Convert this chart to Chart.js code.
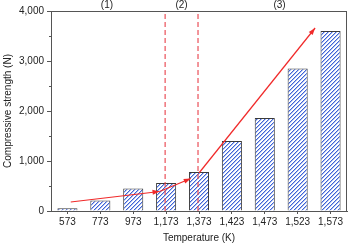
<!DOCTYPE html>
<html>
<head>
<meta charset="utf-8">
<script src="https://cdn.jsdelivr.net/npm/chart.js@4/dist/chart.umd.min.js"></script>
<style>
  html, body { margin: 0; padding: 0; background: #fff; }
  #wrap { width: 348px; height: 245px; }
</style>
</head>
<body>
<div id="wrap"><canvas id="chart"></canvas></div>
<script>
const temps = ["573", "773", "973", "1,173", "1,373", "1,423", "1,473", "1,523", "1,573"];
const strength = [55, 210, 450, 560, 780, 1400, 1860, 2850, 3600];
const yTicks = [0, 1000, 2000, 3000, 4000];

// trend arrows, x = category index, y = strength
const arrowLow = [{ x: 0.1, y: 180 }, { x: 2.8, y: 390 }];
const arrowMid = [{ x: 2.8, y: 390 }, { x: 3.75, y: 650 }];
const arrowHigh = [{ x: 4.0, y: 760 }, { x: 7.53, y: 3660 }];
const stageLines = [2.97, 3.97];
const stageLabels = ["(1)", "(2)", "(3)"];
const stageLabelPos = [1.2, 3.47, 6.45];

const axisColor = "#555";
const red = "#f02a2a";
const font = "Liberation Sans, Arial, sans-serif";

// crisp "/" hatch, drawn pixel by pixel
function hatch() {
  const c = document.createElement("canvas");
  c.width = 4; c.height = 4;
  const g = c.getContext("2d");
  g.fillStyle = "#fff";
  g.fillRect(0, 0, 4, 4);
  for (let i = 0; i < 4; i++) {
    g.fillStyle = "#3f63d6";
    g.fillRect(i, 3 - i, 1, 1);
    g.fillStyle = "#aebff0";
    g.fillRect(i, (4 - i) % 4, 1, 1);
  }
  return g.createPattern(c, "repeat");
}

const ctx = document.getElementById("chart").getContext("2d");

const extras = {
  id: "extras",
  afterDatasetsDraw(chart) {
    const { ctx, chartArea: a, scales } = chart;
    const x = scales.x, y = scales.y;
    ctx.save();
    // frame
    ctx.strokeStyle = axisColor;
    ctx.lineWidth = 1;
    ctx.strokeRect(a.left + 0.5, a.top + 0.5, a.right - a.left - 1, a.bottom - a.top);
    // minor ticks
    for (let v = 500; v < 4000; v += 1000) {
      const py = Math.round(y.getPixelForValue(v)) + 0.5;
      ctx.beginPath();
      ctx.moveTo(a.left - 2, py);
      ctx.lineTo(a.left, py);
      ctx.stroke();
    }
    // arrowheads
    [arrowLow, arrowMid, arrowHigh].forEach((pts) => {
      const p0 = pts[pts.length - 2], p1 = pts[pts.length - 1];
      const x0 = x.getPixelForValue(p0.x), y0 = y.getPixelForValue(p0.y);
      const x1 = x.getPixelForValue(p1.x), y1 = y.getPixelForValue(p1.y);
      const ang = Math.atan2(y1 - y0, x1 - x0);
      ctx.fillStyle = red;
      ctx.beginPath();
      ctx.moveTo(x1, y1);
      ctx.lineTo(x1 - 7 * Math.cos(ang) + 2.5 * Math.sin(ang), y1 - 7 * Math.sin(ang) - 2.5 * Math.cos(ang));
      ctx.lineTo(x1 - 7 * Math.cos(ang) - 2.5 * Math.sin(ang), y1 - 7 * Math.sin(ang) + 2.5 * Math.cos(ang));
      ctx.closePath();
      ctx.fill();
    });
    // stage labels
    ctx.fillStyle = "#222";
    ctx.font = "10px " + font;
    ctx.textAlign = "center";
    ctx.textBaseline = "middle";
    stageLabels.forEach((t, i) => {
      ctx.fillText(t, x.getPixelForValue(stageLabelPos[i]), 5);
    });
    ctx.restore();
  }
};

// line overlays sit on the category axis with fractional indexes
const lineDs = (pts, extra) => Object.assign({
  type: "line",
  data: pts,
  parsing: false,
  borderColor: red,
  borderWidth: 1.2,
  pointRadius: 0,
  fill: false,
  order: 0
}, extra);

new Chart(ctx, {
  type: "bar",
  data: {
    labels: temps,
    datasets: [
      lineDs(arrowLow),
      lineDs(arrowMid),
      lineDs(arrowHigh),
      ...stageLines.map((s) => lineDs([{ x: s, y: 0 }, { x: s, y: 4000 }], {
        borderColor: "rgba(232,60,70,0.9)",
        borderDash: [5, 3],
        borderWidth: 1.2
      })),
      {
        type: "bar",
        data: strength,
        backgroundColor: hatch(),
        borderColor: "#3a3a3a",
        borderWidth: 1,
        categoryPercentage: 1,
        barPercentage: 0.61,
        order: 2
      }
    ]
  },
  options: {
    responsive: true,
    maintainAspectRatio: false,
    animation: false,
    layout: { padding: { top: 11, right: 1, left: 0, bottom: 0 } },
    plugins: {
      legend: { display: false },
      tooltip: { enabled: false }
    },
    scales: {
      x: {
        type: "category",
        grid: { display: true, offset: false, drawOnChartArea: false, tickLength: 3, color: axisColor },
        border: { display: true, color: axisColor },
        ticks: { color: "#222", font: { family: font, size: 10 }, padding: 2, maxRotation: 0, autoSkip: false },
        title: { display: true, text: "Temperature (K)", color: "#222", font: { family: font, size: 10 }, padding: { top: 0, bottom: 1 } },
        afterFit: (s) => { s.height = 34; }
      },
      y: {
        min: 0,
        max: 4000,
        afterBuildTicks: (s) => { s.ticks = yTicks.map((v) => ({ value: v })); },
        grid: { display: true, drawOnChartArea: false, tickLength: 4, color: axisColor },
        border: { display: true, color: axisColor },
        ticks: {
          color: "#222",
          font: { family: font, size: 10 },
          padding: 3,
          callback: (v) => v.toLocaleString("en-US")
        },
        title: { display: true, text: "Compressive strength (N)", color: "#222", font: { family: font, size: 10 }, padding: { top: 2, bottom: 0 } },
        afterFit: (s) => { s.width = 51; }
      }
    }
  },
  plugins: [extras]
});
</script>
</body>
</html>
